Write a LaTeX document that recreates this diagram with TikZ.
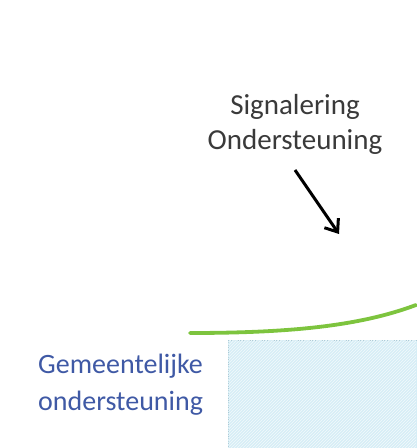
\documentclass[tikz,border=0pt]{standalone}
\usepackage{fontspec}
\setmainfont{Carlito}
\usetikzlibrary{positioning, arrows.meta, patterns}

\definecolor{textgray}{RGB}{58,58,58}
\definecolor{gemblue}{RGB}{63,89,165}
\definecolor{curvegreen}{RGB}{125,196,62}
\definecolor{boxblue}{RGB}{214,238,246}
\definecolor{boxedge}{RGB}{170,200,212}

\tikzset{
    label_text/.style={font=\fontsize{29}{35}\selectfont, text=textgray, align=center, inner sep=0pt},
    side_text/.style={font=\fontsize{28}{37}\selectfont, text=gemblue, align=left, inner sep=0pt},
    signal_arrow/.style={line width=3pt, -{Straight Barb[length=11pt, width=17pt]}},
    trend_line/.style={line width=3.8pt, curvegreen, line cap=round},
    hatch_box/.style={fill=boxblue, draw=boxedge, dotted, thin}
}

\begin{document}
\begin{tikzpicture}[x=1pt, y=1pt]
    \useasboundingbox (0,0) rectangle (416,448);

    \node[label_text] (signal) at (295,324) {Signalering\\Ondersteuning};
    \node[side_text, anchor=west] (gemeente) at (38,63) {Gemeentelijke\\ondersteuning};

    % box
    \filldraw[hatch_box] (228,108) rectangle (417,-1);
    \fill[pattern=north east lines, pattern color=white!70!boxblue] (228.5,107.5) rectangle (416,0);

    % dot
    \coordinate (arrow_start) at (295,278);
    \coordinate (arrow_end) at (339,214);
    \coordinate (curve_start) at (190,115);
    \coordinate (curve_end) at (416,143);

    \draw[signal_arrow] (arrow_start) -- (arrow_end);
    \draw[trend_line] (curve_start) .. controls (290,115) and (360,122) .. (curve_end);
\end{tikzpicture}
\end{document}
